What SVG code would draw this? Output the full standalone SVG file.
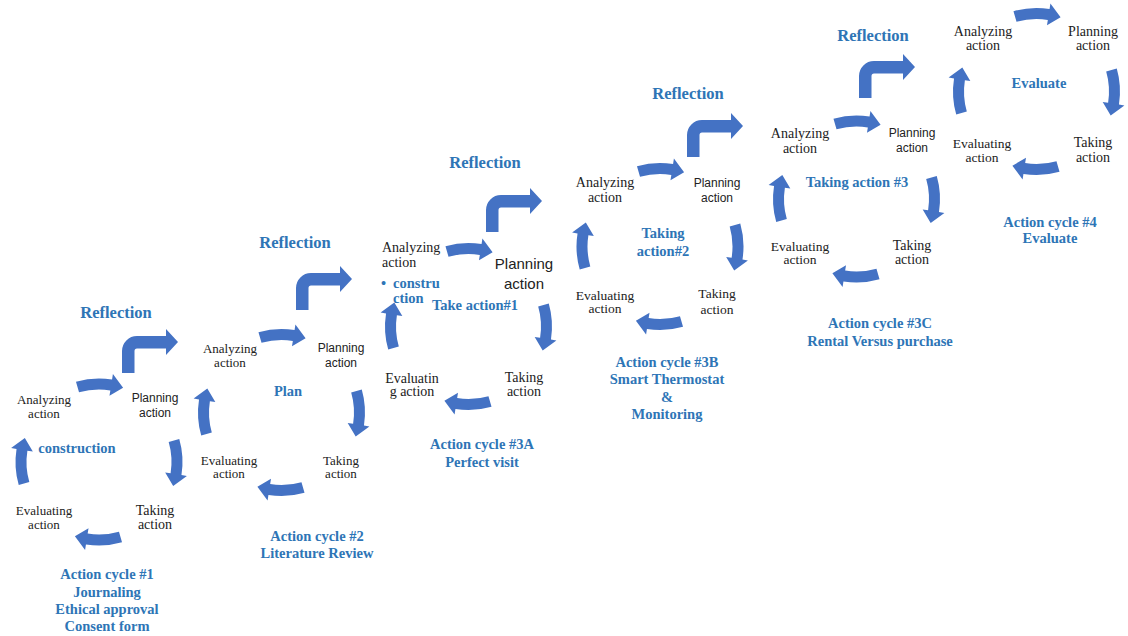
<svg xmlns="http://www.w3.org/2000/svg" width="1128" height="636" viewBox="0 0 1128 636">
  <style>
    .arrow { fill: #4472C4; }
    .t { font-family: "Liberation Serif", "Times New Roman", serif; font-size: 13px; fill: #222; text-anchor: middle; }
    .t14 { font-size: 14px; }
    .t135 { font-size: 13.5px; }
    .s { font-family: "Liberation Sans", Arial, sans-serif; font-size: 12px; fill: #222; text-anchor: middle; }
    .s15 { font-size: 15px; }
    .b { font-family: "Liberation Serif", "Times New Roman", serif; font-weight: bold; font-size: 14.5px; fill: #2E75B6; text-anchor: middle; }
    .refl { font-size: 16.5px; }
    .left { text-anchor: start; }
  </style>
  <defs>
    <!-- circular arrow segment, cycle centre at origin, radius 78, pointing clockwise -->
    <path id="arc" class="arrow" d="M-23.02 -80.27 A83.5 83.5 0 0 1 13.06 -82.47 L13.92 -87.90 L24.10 -74.18 L10.48 -66.18 L11.34 -71.61 A72.5 72.5 0 0 0 -19.98 -69.69 Z"/>
    <!-- bent-up arrow, origin at bottom-left of the shaft -->
    <path id="bent" class="arrow" d="M0 0 V-22 A15 15 0 0 1 15 -37 H44 V-44 L56 -31 L44 -18 V-24.5 H15 A2.5 2.5 0 0 0 12.5 -22 V0 Z"/>
  </defs>

  <rect width="1128" height="636" fill="#ffffff"/>

  <g id="connectors">
    <!-- cycle 1 -->
    <g transform="translate(99,462)">
      <use href="#arc"/><use href="#arc" transform="rotate(90)"/><use href="#arc" transform="rotate(180)"/><use href="#arc" transform="rotate(270)"/>
    </g>
    <!-- cycle 2 -->
    <g transform="translate(281.5,412.5)">
      <use href="#arc"/><use href="#arc" transform="rotate(90)"/><use href="#arc" transform="rotate(180)"/><use href="#arc" transform="rotate(270)"/>
    </g>
    <!-- cycle 3A -->
    <g transform="translate(468.5,326.5)">
      <use href="#arc"/><use href="#arc" transform="rotate(90)"/><use href="#arc" transform="rotate(180)"/><use href="#arc" transform="rotate(270)"/>
    </g>
    <!-- cycle 3B -->
    <g transform="translate(660,246.5)">
      <use href="#arc"/><use href="#arc" transform="rotate(90)"/><use href="#arc" transform="rotate(180)"/><use href="#arc" transform="rotate(270)"/>
    </g>
    <!-- cycle 3C -->
    <g transform="translate(856.5,199)">
      <use href="#arc"/><use href="#arc" transform="rotate(90)"/><use href="#arc" transform="rotate(180)"/><use href="#arc" transform="rotate(270)"/>
    </g>
    <!-- cycle 4 -->
    <g transform="translate(1036.5,91.5)">
      <use href="#arc"/><use href="#arc" transform="rotate(90)"/><use href="#arc" transform="rotate(180)"/><use href="#arc" transform="rotate(270)"/>
    </g>
    <!-- reflection steps between cycles -->
    <use href="#bent" x="122" y="373"/>
    <use href="#bent" x="296" y="310"/>
    <use href="#bent" x="486" y="232"/>
    <use href="#bent" x="687" y="157"/>
    <use href="#bent" x="859" y="98"/>
  </g>

  <!-- cycle 1 -->
  <g id="cycle1">
    <g id="c1-reflection"><text class="b refl" x="116" y="318">Reflection</text></g>
    <g id="c1-analyzing"><text class="t" x="44" y="403.5">Analyzing</text><text class="t" x="44" y="417.5">action</text></g>
    <g id="c1-planning"><text class="s" x="155" y="402">Planning</text><text class="s" x="155" y="417">action</text></g>
    <g id="c1-centre"><text class="b" x="77" y="453">construction</text></g>
    <g id="c1-evaluating"><text class="t" x="44" y="514.5">Evaluating</text><text class="t" x="44" y="528.5">action</text></g>
    <g id="c1-taking"><text class="t t14" x="155" y="514.5">Taking</text><text class="t t14" x="155" y="528.5">action</text></g>
    <g id="c1-caption">
      <text class="b" x="107" y="579">Action cycle #1</text>
      <text class="b" x="107" y="597">Journaling</text>
      <text class="b" x="107" y="614">Ethical approval</text>
      <text class="b" x="107" y="631">Consent form</text>
    </g>
  </g>

  <!-- cycle 2 -->
  <g id="cycle2">
    <g id="c2-reflection"><text class="b refl" x="295" y="248">Reflection</text></g>
    <g id="c2-analyzing"><text class="t" x="230" y="352.5">Analyzing</text><text class="t" x="230" y="366.5">action</text></g>
    <g id="c2-planning"><text class="s" x="341" y="352">Planning</text><text class="s" x="341" y="366.5">action</text></g>
    <g id="c2-centre"><text class="b" x="288" y="396">Plan</text></g>
    <g id="c2-evaluating"><text class="t" x="229" y="464.5">Evaluating</text><text class="t" x="229" y="478">action</text></g>
    <g id="c2-taking"><text class="t" x="341" y="464.5">Taking</text><text class="t" x="341" y="478">action</text></g>
    <g id="c2-caption">
      <text class="b" x="317" y="541">Action cycle #2</text>
      <text class="b" x="317" y="558">Literature Review</text>
    </g>
  </g>

  <!-- cycle 3A -->
  <g id="cycle3a">
    <g id="c3a-reflection"><text class="b refl" x="485" y="168">Reflection</text></g>
    <g id="c3a-analyzing">
      <text class="t t14 left" x="382" y="251.5">Analyzing</text>
      <text class="t t14 left" x="382" y="266.5">action</text>
      <text class="b left" x="381" y="288">•</text>
      <text class="b left" x="393" y="288">constru</text>
      <text class="b left" x="393" y="303">ction</text>
    </g>
    <g id="c3a-planning"><text class="s s15" x="524" y="268.5">Planning</text><text class="s s15" x="524" y="288.5">action</text></g>
    <g id="c3a-centre"><text class="b" x="475" y="310">Take action#1</text></g>
    <g id="c3a-evaluating"><text class="t t14" x="412" y="382.5">Evaluatin</text><text class="t t14" x="412" y="396">g action</text></g>
    <g id="c3a-taking"><text class="t t14" x="524" y="382">Taking</text><text class="t t14" x="524" y="395.5">action</text></g>
    <g id="c3a-caption">
      <text class="b" x="482" y="449">Action cycle #3A</text>
      <text class="b" x="482" y="467">Perfect visit</text>
    </g>
  </g>

  <!-- cycle 3B -->
  <g id="cycle3b">
    <g id="c3b-reflection"><text class="b refl" x="688" y="99">Reflection</text></g>
    <g id="c3b-analyzing"><text class="t t14" x="605" y="186.5">Analyzing</text><text class="t t14" x="605" y="201.5">action</text></g>
    <g id="c3b-planning"><text class="s" x="717" y="186.5">Planning</text><text class="s" x="717" y="201.5">action</text></g>
    <g id="c3b-centre"><text class="b" x="663" y="238">Taking</text><text class="b" x="663" y="256">action#2</text></g>
    <g id="c3b-evaluating"><text class="t t135" x="605" y="299.5">Evaluating</text><text class="t t135" x="605" y="312.5">action</text></g>
    <g id="c3b-taking"><text class="t t135" x="717" y="298">Taking</text><text class="t t135" x="717" y="313.5">action</text></g>
    <g id="c3b-caption">
      <text class="b" x="667" y="367">Action cycle #3B</text>
      <text class="b" x="667" y="384">Smart Thermostat</text>
      <text class="b" x="667" y="402">&amp;</text>
      <text class="b" x="667" y="419">Monitoring</text>
    </g>
  </g>

  <!-- cycle 3C -->
  <g id="cycle3c">
    <g id="c3c-reflection"><text class="b refl" x="873" y="41">Reflection</text></g>
    <g id="c3c-analyzing"><text class="t t14" x="800" y="137.5">Analyzing</text><text class="t t14" x="800" y="152.5">action</text></g>
    <g id="c3c-planning"><text class="s" x="912" y="137">Planning</text><text class="s" x="912" y="151.5">action</text></g>
    <g id="c3c-centre"><text class="b" x="857" y="187">Taking action #3</text></g>
    <g id="c3c-evaluating"><text class="t t135" x="800" y="250.5">Evaluating</text><text class="t t135" x="800" y="263.5">action</text></g>
    <g id="c3c-taking"><text class="t t14" x="912" y="249.5">Taking</text><text class="t t14" x="912" y="263.5">action</text></g>
    <g id="c3c-caption">
      <text class="b" x="880" y="328">Action cycle #3C</text>
      <text class="b" x="880" y="346">Rental Versus purchase</text>
    </g>
  </g>

  <!-- cycle 4 -->
  <g id="cycle4">
    <g id="c4-analyzing"><text class="t t14" x="983" y="35.5">Analyzing</text><text class="t t14" x="983" y="49.5">action</text></g>
    <g id="c4-planning"><text class="t t14" x="1093" y="35.5">Planning</text><text class="t t14" x="1093" y="49.5">action</text></g>
    <g id="c4-centre"><text class="b" x="1039" y="88">Evaluate</text></g>
    <g id="c4-evaluating"><text class="t t135" x="982" y="147.5">Evaluating</text><text class="t t135" x="982" y="161.5">action</text></g>
    <g id="c4-taking"><text class="t t14" x="1093" y="146.5">Taking</text><text class="t t14" x="1093" y="161.5">action</text></g>
    <g id="c4-caption">
      <text class="b" x="1050" y="227">Action cycle #4</text>
      <text class="b" x="1050" y="243">Evaluate</text>
    </g>
  </g>
</svg>
